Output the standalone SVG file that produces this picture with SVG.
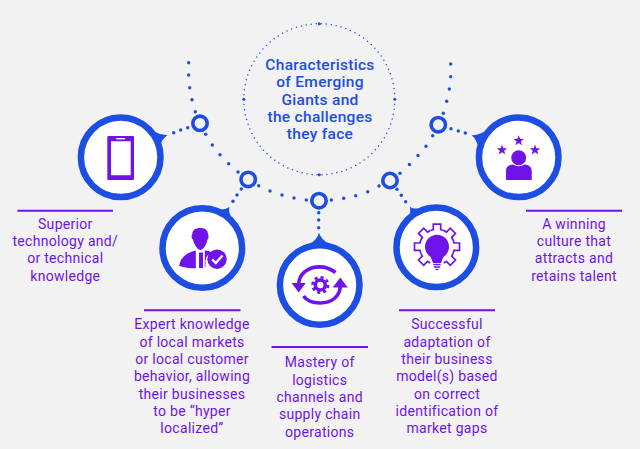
<svg xmlns="http://www.w3.org/2000/svg" xmlns:xlink="http://www.w3.org/1999/xlink" width="640" height="449" viewBox="0 0 640 449">
<style>
.ring{fill:#fff;stroke:#1d4ee2;stroke-width:6.5}
.hub{fill:none;stroke:#1d4ee2;stroke-width:3.6}
.tail{fill:#1d4ee2}
.dot{fill:#1d4ee2}
.rule{stroke:#7013e8;stroke-width:2}
.lbl{font-family:Roboto,"Liberation Sans",sans-serif;font-size:14px;letter-spacing:.3px;fill:#7013e8;text-anchor:middle}
.ttl{font-family:Roboto,"Liberation Sans",sans-serif;font-size:15.5px;font-weight:500;letter-spacing:.3px;fill:#1d4ee2;text-anchor:middle}
.ic{fill:#7013e8}
.ol{fill:none;stroke:#7013e8}
</style>
<defs>
<path id="tooth" d="M-6.7 -16.2L-3.7 -17V-22.5H3.7V-17L6.7 -16.2" fill="none" stroke="#7013e8" stroke-width="1.7" stroke-linejoin="miter"/>
<polygon id="star" points="0,-5.5 1.35,-1.86 5.23,-1.7 2.19,.71 3.23,4.45 0,2.3 -3.23,4.45 -2.19,.71 -5.23,-1.7 -1.35,-1.86" fill="#7013e8"/>
</defs>
<rect width="640" height="449" fill="#f2f2f2"/>
<g id="connectors" class="dot">
<circle cx="188.7" cy="62.7" r="1.7"/><circle cx="188.7" cy="75" r="1.7"/><circle cx="189.7" cy="87.7" r="1.7"/><circle cx="192" cy="99.7" r="1.7"/><circle cx="195.3" cy="111.7" r="1.7"/>
<circle cx="187.7" cy="127.7" r="1.7"/><circle cx="180.7" cy="130" r="1.7"/><circle cx="173.7" cy="132.7" r="1.7"/>
<circle cx="205.7" cy="134.3" r="1.7"/><circle cx="212.3" cy="145" r="1.7"/><circle cx="220" cy="154.7" r="1.7"/><circle cx="228.7" cy="163.7" r="1.7"/><circle cx="238" cy="172" r="1.7"/>
<circle cx="241.3" cy="189" r="1.7"/><circle cx="237" cy="195" r="1.7"/><circle cx="233" cy="201.3" r="1.7"/>
<circle cx="258.7" cy="185.7" r="1.7"/><circle cx="270" cy="191" r="1.7"/><circle cx="282" cy="195" r="1.7"/><circle cx="294" cy="198" r="1.7"/><circle cx="306.3" cy="200" r="1.7"/>
<circle cx="331.3" cy="200" r="1.7"/><circle cx="343.7" cy="198.3" r="1.7"/><circle cx="355.7" cy="195.7" r="1.7"/><circle cx="367.7" cy="191.7" r="1.7"/><circle cx="379" cy="186" r="1.7"/>
<circle cx="318.7" cy="212.7" r="1.7"/><circle cx="318.7" cy="220" r="1.7"/><circle cx="318.7" cy="227.7" r="1.7"/>
<circle cx="397" cy="189.3" r="1.7"/><circle cx="401.3" cy="195.3" r="1.7"/><circle cx="405.7" cy="201.7" r="1.7"/>
<circle cx="400" cy="173.3" r="1.7"/><circle cx="409.5" cy="164.5" r="1.7"/><circle cx="418" cy="155.5" r="1.7"/><circle cx="426" cy="146.3" r="1.7"/><circle cx="432.7" cy="135.7" r="1.7"/>
<circle cx="450.7" cy="64" r="1.7"/><circle cx="450.7" cy="76.7" r="1.7"/><circle cx="449.3" cy="89" r="1.7"/><circle cx="446.7" cy="101.3" r="1.7"/><circle cx="443.3" cy="113.3" r="1.7"/>
<circle cx="451" cy="128.7" r="1.7"/><circle cx="458.3" cy="131" r="1.7"/><circle cx="465.3" cy="133" r="1.7"/>
<circle class="hub" cx="200" cy="123.3" r="7.2"/><circle class="hub" cx="248.2" cy="179.4" r="7.2"/><circle class="hub" cx="319" cy="200.7" r="7.2"/><circle class="hub" cx="390" cy="180.5" r="7.2"/><circle class="hub" cx="438.3" cy="124.7" r="7.2"/>
</g>
<g id="center">
<circle cx="319.3" cy="99.3" r="75.5" fill="none" stroke="#1d4ee2" stroke-width="1.5" stroke-linecap="round" stroke-dasharray="0 5.03"/>
<circle class="dot" cx="319.3" cy="23.8" r="1.5"/><circle class="dot" cx="319.3" cy="174.8" r="1.5"/><circle class="dot" cx="243.8" cy="99.3" r="1.5"/><circle class="dot" cx="394.8" cy="99.3" r="1.5"/>
<text class="ttl" x="320" y="70">Characteristics</text>
<text class="ttl" x="320" y="87.3">of Emerging</text>
<text class="ttl" x="320" y="104.7">Giants and</text>
<text class="ttl" x="320" y="122">the challenges</text>
<text class="ttl" x="320" y="139.3">they face</text>
</g>
<g id="node-technology">
<path class="tail" d="M167.7 135Q161 135.5 154 131.5L160.5 145Q162 139 167.7 135Z"/>
<circle class="ring" cx="120.7" cy="157.3" r="39.8"/>
<path class="ic" fill-rule="evenodd" d="M108.3 136H133Q134 136 134 137V179Q134 180 133 180H108.3Q107.3 180 107.3 179V137Q107.3 136 108.3 136ZM111 141.3V175.3H130.7V141.3Z"/>
<rect x="116.3" y="138" width="8.7" height="1.4" fill="#fff"/>
<line class="rule" x1="17.5" y1="210.7" x2="113" y2="210.7"/>
<text class="lbl" x="65.3" y="228.7">Superior</text>
<text class="lbl" x="65.3" y="246">technology and/</text>
<text class="lbl" x="65.3" y="263.3">or technical</text>
<text class="lbl" x="65.3" y="280.6">knowledge</text>
</g>
<g id="node-local">
<path class="tail" d="M229.3 207Q225 210 219 209.5L231 216Q228.5 212 229.3 207Z"/>
<circle class="ring" cx="202.3" cy="248" r="39.8"/>
<path class="ic" d="M192.3 234C192.3 230 195.5 228 200.5 228C205 228 208 230 208 234.5C209 235.5 208.7 239 207.5 239.5C206.5 244 204 249.5 200.5 250C197 249.5 194 244 193 239.5C191.7 239 191 235.5 192.3 234Z"/>
<path class="ic" d="M179.2 266C180 259 185 253 195.8 250.5V268.3C190 268.3 184 267.5 179.2 266Z"/>
<path class="ic" d="M199 252.5H203V268H199Z"/>
<path class="ic" d="M204.8 250.5C207 250.8 210 251.2 212 252.5C208 254 206 257 205.5 260V267H204.8Z"/>
<circle class="ic" cx="217" cy="259.2" r="9.7"/>
<path fill="none" stroke="#fff" stroke-width="2.4" d="M212.2 259.5L215.8 263L222.5 255.5"/>
<line class="rule" x1="144" y1="310.3" x2="240.5" y2="310.3"/>
<text class="lbl" x="192" y="329.3">Expert knowledge</text>
<text class="lbl" x="192" y="346.6">of local markets</text>
<text class="lbl" x="192" y="363.9">or local customer</text>
<text class="lbl" x="192" y="381.2">behavior, allowing</text>
<text class="lbl" x="192" y="398.5">their businesses</text>
<text class="lbl" x="192" y="415.8">to be “hyper</text>
<text class="lbl" x="192" y="433.1">localized”</text>
</g>
<g id="node-logistics">
<path class="tail" d="M319 232.7Q317 240 310 243.5H329Q321.5 240 319 232.7Z"/>
<circle class="ring" cx="319.7" cy="285" r="39.8"/>
<path class="ol" stroke-width="3.6" d="M335.5 272.5C330 268.5 325 266.9 319.5 266.9C308 266.9 299 274 298.7 284"/>
<path class="ol" stroke-width="3.6" d="M303.5 296C307 301 313 303 320 303C332 303 340 296 340.3 286"/>
<polygon class="ic" points="291.5,283 305.8,283 298.7,292.5"/>
<polygon class="ic" points="332.7,287.5 347.7,287.5 340.3,277.5"/>
<circle class="ol" cx="320.3" cy="285" r="5" stroke-width="3.6"/>
<circle class="ol" cx="320.3" cy="285" r="7.7" stroke-width="2.8" stroke-dasharray="3 3.05"/>
<line class="rule" x1="271.5" y1="347" x2="368" y2="347"/>
<text class="lbl" x="319.7" y="367.3">Mastery of</text>
<text class="lbl" x="319.7" y="384.6">logistics</text>
<text class="lbl" x="319.7" y="401.9">channels and</text>
<text class="lbl" x="319.7" y="419.2">supply chain</text>
<text class="lbl" x="319.7" y="436.5">operations</text>
</g>
<g id="node-adaptation">
<path class="tail" d="M410 206.7Q412 209 419 208.5L409 216Q411 212 410 206.7Z"/>
<circle class="ring" cx="436.3" cy="247.3" r="39.8"/>
<use xlink:href="#tooth" href="#tooth" transform="translate(437 246.7) rotate(-135)"/>
<use xlink:href="#tooth" href="#tooth" transform="translate(437 246.7) rotate(-90)"/>
<use xlink:href="#tooth" href="#tooth" transform="translate(437 246.7) rotate(-45)"/>
<use xlink:href="#tooth" href="#tooth" transform="translate(437 246.7)"/>
<use xlink:href="#tooth" href="#tooth" transform="translate(437 246.7) rotate(45)"/>
<use xlink:href="#tooth" href="#tooth" transform="translate(437 246.7) rotate(90)"/>
<use xlink:href="#tooth" href="#tooth" transform="translate(437 246.7) rotate(135)"/>
<circle class="ic" cx="437" cy="246.7" r="12"/>
<path class="ic" d="M430 255H444L441 263H433Z"/>
<path class="ol" stroke-width="1.3" d="M433.3 264.5H440.7M433.8 267H440.2M435.5 269.3H438.5"/>
<line class="rule" x1="399" y1="310.3" x2="495" y2="310.3"/>
<text class="lbl" x="447" y="329.3">Successful</text>
<text class="lbl" x="447" y="346.6">adaptation of</text>
<text class="lbl" x="447" y="363.9">their business</text>
<text class="lbl" x="447" y="381.2">model(s) based</text>
<text class="lbl" x="447" y="398.5">on correct</text>
<text class="lbl" x="447" y="415.8">identification of</text>
<text class="lbl" x="447" y="433.1">market gaps</text>
</g>
<g id="node-culture">
<path class="tail" d="M471.7 135.3Q478 135.5 484 131.5L477.5 145Q476 139 471.7 135.3Z"/>
<circle class="ring" cx="518.7" cy="157.3" r="39.8"/>
<use xlink:href="#star" href="#star" x="518.7" y="140.7"/>
<use xlink:href="#star" href="#star" x="502" y="150"/>
<use xlink:href="#star" href="#star" x="535" y="150"/>
<circle class="ic" cx="518.7" cy="157.7" r="7.5"/>
<path class="ic" d="M506 180V171Q506 165 513 164.5Q518.7 168 524.5 164.5Q531.7 165 531.7 171V180Z"/>
<line class="rule" x1="526" y1="210.7" x2="622" y2="210.7"/>
<text class="lbl" x="574" y="228.7">A winning</text>
<text class="lbl" x="574" y="246">culture that</text>
<text class="lbl" x="574" y="263.3">attracts and</text>
<text class="lbl" x="574" y="280.6">retains talent</text>
</g>
</svg>
